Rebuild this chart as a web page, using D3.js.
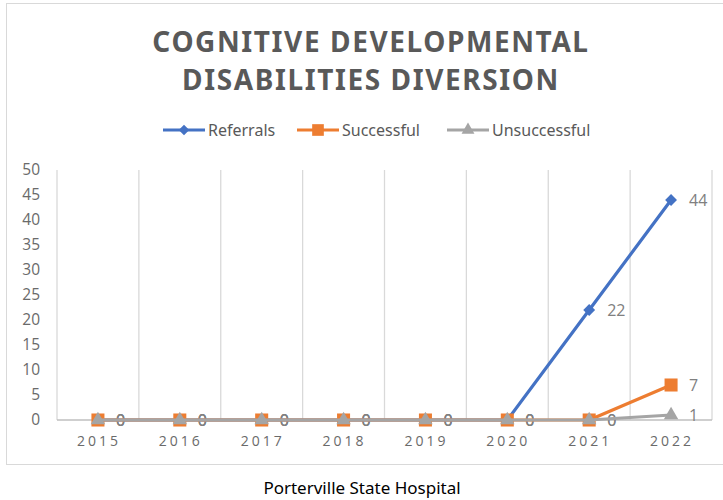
<!DOCTYPE html>
<meta charset="utf-8">
<style>
body { margin: 0; background: #fff; }
text { font-family: "Liberation Sans Narrow", "Noto Sans", sans-serif; }
</style>
<svg width="723" height="500"></svg>
<script src="https://d3js.org/d3.v7.min.js"></script>
<script>
// chart values
var years = ["2015", "2016", "2017", "2018", "2019", "2020", "2021", "2022"];
var referrals = [0, 0, 0, 0, 0, 0, 22, 44];
var successful = [0, 0, 0, 0, 0, 0, 0, 7];
var unsuccessful = [0, 0, 0, 0, 0, 0, 0, 1];
var yTicks = [0, 5, 10, 15, 20, 25, 30, 35, 40, 45, 50];

var series = [
  {name: "Referrals", values: referrals, color: "#4472c4", symbol: d3.symbolSquare, size: 70, rotate: 45},
  {name: "Successful", values: successful, color: "#ed7d31", symbol: d3.symbolSquare, size: 170, rotate: 0},
  {name: "Unsuccessful", values: unsuccessful, color: "#a5a5a5", symbol: d3.symbolTriangle, size: 90, rotate: 0}
];

var svg = d3.select("svg");

// outer chart frame
svg.append("rect")
    .attr("x", 6.5).attr("y", 3.5)
    .attr("width", 730).attr("height", 461)
    .attr("fill", "#fff")
    .attr("stroke", "#d9d9d9");

var x = d3.scaleBand().domain(years).range([57, 712]);
var y = d3.scaleLinear().domain([0, 50]).range([420, 170]);

// vertical gridlines at category boundaries
var bounds = years.map(function(d) { return x(d); }).concat([x.range()[1]]);
svg.append("g").selectAll("line")
    .data(bounds)
  .enter().append("line")
    .attr("x1", function(d) { return d; })
    .attr("x2", function(d) { return d; })
    .attr("y1", y(50)).attr("y2", y(0))
    .attr("stroke", "#d9d9d9")
    .attr("stroke-width", 1.3);

// horizontal axis line
svg.append("line")
    .attr("x1", x.range()[0]).attr("x2", x.range()[1])
    .attr("y1", y(0)).attr("y2", y(0))
    .attr("stroke", "#bfbfbf")
    .attr("stroke-width", 1.3);

// y tick labels
svg.append("g").selectAll("text")
    .data(yTicks)
  .enter().append("text")
    .attr("x", 40)
    .attr("y", function(d) { return y(d); })
    .attr("dy", "0.35em")
    .attr("text-anchor", "end")
    .attr("fill", "#6a6a6a")
    .style("font-family", "'Open Sans', sans-serif")
    .style("font-size", "15.5px")
    .text(function(d) { return d; });

// x tick labels
svg.append("g").selectAll("text")
    .data(years)
  .enter().append("text")
    .attr("x", function(d) { return x(d) + x.bandwidth() / 2 + 1; })
    .attr("y", 446)
    .attr("text-anchor", "middle")
    .attr("fill", "#6a6a6a")
    .style("font-family", "'Open Sans', sans-serif")
    .style("font-size", "14px")
    .style("letter-spacing", "3px")
    .text(function(d) { return d; });

var cx = function(i) { return x(years[i]) + x.bandwidth() / 2; };
var line = d3.line()
    .x(function(d, i) { return cx(i); })
    .y(function(d) { return y(d); });

// data labels (drawn under the lines, as in the original)
series.forEach(function(s) {
  svg.append("g").selectAll("text")
      .data(s.values)
    .enter().append("text")
      .attr("x", function(d, i) { return cx(i) + 18; })
      .attr("y", function(d) { return y(d); })
      .attr("dy", "0.35em")
      .attr("fill", "#808080")
      .style("font-family", "'Open Sans', sans-serif")
      .style("font-size", "16px")
      .text(function(d) { return d; });
});

series.forEach(function(s) {
  var g = svg.append("g");
  g.append("path")
      .datum(s.values)
      .attr("d", line)
      .attr("fill", "none")
      .attr("stroke", s.color)
      .attr("stroke-width", 3.2)
      .attr("stroke-linejoin", "round");
  g.selectAll("path.m")
      .data(s.values)
    .enter().append("path")
      .attr("class", "m")
      .attr("transform", function(d, i) {
        return "translate(" + cx(i) + "," + y(d) + ") rotate(" + s.rotate + ")";
      })
      .attr("d", d3.symbol().type(s.symbol).size(s.size))
      .attr("fill", s.color);
});

// title
svg.append("text")
    .attr("x", 371).attr("y", 52)
    .attr("text-anchor", "middle")
    .attr("fill", "#595959")
    .style("font-size", "28px")
    .style("font-weight", "bold")
    .style("letter-spacing", "1.6px")
    .text("COGNITIVE DEVELOPMENTAL");
svg.append("text")
    .attr("x", 371).attr("y", 90)
    .attr("text-anchor", "middle")
    .attr("fill", "#595959")
    .style("font-size", "28px")
    .style("font-weight", "bold")
    .style("letter-spacing", "1.6px")
    .text("DISABILITIES DIVERSION");

// legend
var legendX = [163, 297, 447];
series.forEach(function(s, i) {
  var g = svg.append("g").attr("transform", "translate(" + legendX[i] + ",130)");
  g.append("line")
      .attr("x1", 0).attr("x2", 42)
      .attr("stroke", s.color)
      .attr("stroke-width", 3.2);
  g.append("path")
      .attr("transform", "translate(21,0) rotate(" + s.rotate + ")")
      .attr("d", d3.symbol().type(s.symbol).size(s.size * 0.8))
      .attr("fill", s.color);
  g.append("text")
      .attr("x", 45)
      .attr("dy", "0.35em")
      .attr("fill", "#595959")
      .style("font-size", "16px")
      .text(s.name);
});

// caption below chart
svg.append("text")
    .attr("x", 362).attr("y", 494)
    .attr("text-anchor", "middle")
    .attr("fill", "#000")
    .style("font-size", "17px")
    .text("Porterville State Hospital");
</script>
